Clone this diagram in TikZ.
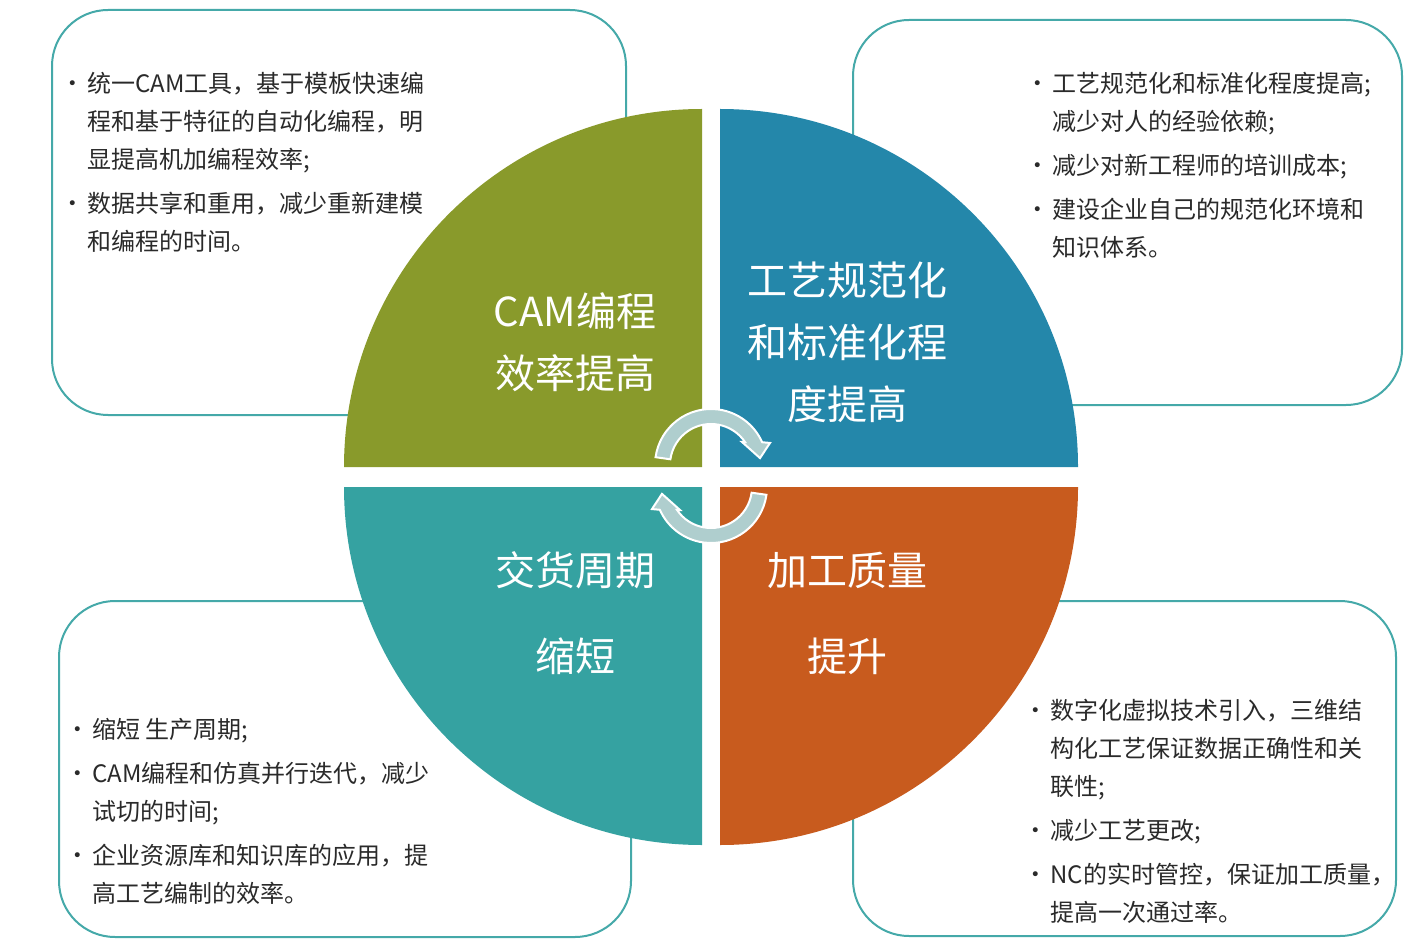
\documentclass[tikz,border=0pt]{standalone}
\usepackage{fontspec}
\setmainfont{Noto Sans CJK SC}
\newfontfamily\bulletfont{DejaVu Sans}
\usepackage{xcolor}
\usepackage{tikz}
\definecolor{camgreen}{HTML}{899A2B}
\definecolor{processblue}{HTML}{2487AA}
\definecolor{deliveryteal}{HTML}{35A2A1}
\definecolor{qualityorange}{HTML}{C85B1E}
\definecolor{boxteal}{HTML}{45A9A9}
\definecolor{arrowgray}{HTML}{AFCECE}
\definecolor{textgray}{HTML}{2A2A2A}
\pgfdeclarelayer{boxlayer}
\pgfdeclarelayer{piecelayer}
\pgfsetlayers{boxlayer,piecelayer,main}
\tikzstyle{info box}=[draw=boxteal, line width=1pt, fill=white, rounded corners=28pt]
\tikzstyle{quarter label}=[text=white, align=center, inner sep=0pt, font=\fontsize{20}{31}\selectfont]
\tikzstyle{info text}=[text=textgray, align=left, anchor=north west, inner sep=0pt, font=\fontsize{12}{19}\selectfont]
\tikzstyle{turn arrow}=[fill=arrowgray, draw=white, line width=1pt]
\newcommand{\bu}{\makebox[0pt]{\raisebox{1.4pt}{\bulletfont\fontsize{8.5}{8.5}\selectfont •}}\hspace*{7.5pt}}
\newcommand{\ind}{\hspace*{7.5pt}}

\begin{document}
\begin{tikzpicture}[x=0.5pt, y=0.5pt]
	\useasboundingbox (0, 0) rectangle (1427, 949);
	\begin{pgfonlayer}{boxlayer}
		\draw [style=info box] (52, 534) rectangle (626, 939);
		\draw [style=info box] (853, 544) rectangle (1402, 929);
		\draw [style=info box] (59, 12) rectangle (631, 348);
		\draw [style=info box] (853, 13) rectangle (1396, 348);
	\end{pgfonlayer}
	\begin{pgfonlayer}{piecelayer}
		\fill [camgreen] (702, 482) -- ++(180:358) arc (180:90:358) -- cycle;
		\fill [processblue] (720, 482) -- ++(0:358) arc (0:90:358) -- cycle;
		\fill [deliveryteal] (702, 462) -- ++(180:358) arc (180:270:358) -- cycle;
		\fill [qualityorange] (720, 462) -- ++(0:358) arc (0:-90:358) -- cycle;
		% the two turning arrows
		\foreach \ang in {0, 180} {
			\begin{scope}[shift={(711, 473)}, rotate=\ang, shift={(0, 11)}]
				\draw [style=turn arrow] (172:56) arc (172:24:56) -- (20.5:63) -- (8:49.5)
					-- (36.6:38.6) -- (34:41) arc (34:172:41) -- cycle;
			\end{scope}
		}
	\end{pgfonlayer}
	\node [style=quarter label] (cam label) at (575, 607) {CAM编程\\效率提高};
	\node [style=quarter label] (process label) at (847, 607) {工艺规范化\\和标准化程\\度提高};
	\node [style=quarter label] (delivery label) at (575, 336) {交货周期\\[12pt]缩短};
	\node [style=quarter label] (quality label) at (847, 336) {加工质量\\[12pt]提升};
	\node [style=info text] (cam notes) at (72, 877) {\bu 统一CAM工具，基于模板快速编\\
		\ind 程和基于特征的自动化编程，明\\
		\ind 显提高机加编程效率;\\[3pt]
		\bu 数据共享和重用，减少重新建模\\
		\ind 和编程的时间。};
	\node [style=info text] (process notes) at (1037, 877) {\bu 工艺规范化和标准化程度提高;\\
		\ind 减少对人的经验依赖;\\[3pt]
		\bu 减少对新工程师的培训成本;\\[3pt]
		\bu 建设企业自己的规范化环境和\\
		\ind 知识体系。};
	\node [style=info text] (delivery notes) at (77, 231) {\bu 缩短 生产周期;\\[3pt]
		\bu CAM编程和仿真并行迭代，减少\\
		\ind 试切的时间;\\[3pt]
		\bu 企业资源库和知识库的应用，提\\
		\ind 高工艺编制的效率。};
	\node [style=info text] (quality notes) at (1035, 250) {\bu 数字化虚拟技术引入，三维结\\
		\ind 构化工艺保证数据正确性和关\\
		\ind 联性;\\[3pt]
		\bu 减少工艺更改;\\[3pt]
		\bu NC的实时管控，保证加工质量，\\
		\ind 提高一次通过率。};
\end{tikzpicture}
\end{document}
